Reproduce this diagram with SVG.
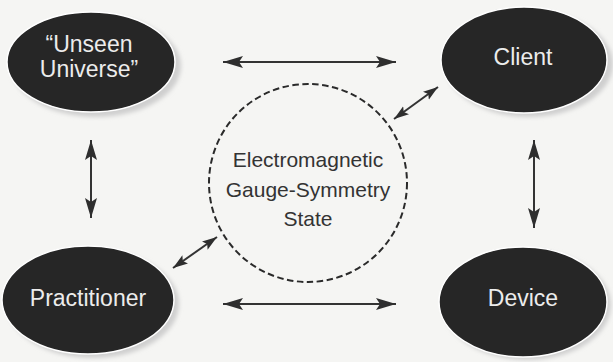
<svg xmlns="http://www.w3.org/2000/svg" width="613" height="362" viewBox="0 0 613 362">
  <style>
    .node { fill: #262626; stroke: #ffffff; stroke-width: 1.5; }
    .shadow { fill: #cfcfcf; filter: url(#blur); }
    .ntext { font-family: "Liberation Sans", Arial, sans-serif; font-size: 23px; fill: #ececec; text-anchor: middle; }
    .ctext { font-family: "Liberation Sans", Arial, sans-serif; font-size: 21px; fill: #333333; text-anchor: middle; }
    .arrow { stroke: #333333; stroke-width: 2; fill: none; marker-start: url(#big); marker-end: url(#big); }
    .darrow { stroke: #333333; stroke-width: 2; fill: none; marker-start: url(#small); marker-end: url(#small); }
  </style>
  <defs>
    <filter id="blur" x="-20%" y="-20%" width="140%" height="140%">
      <feGaussianBlur stdDeviation="2"/>
    </filter>
    <marker id="big" markerUnits="userSpaceOnUse" viewBox="-20 -7 21 14" refX="0" refY="0" markerWidth="21" markerHeight="14" orient="auto-start-reverse">
      <path d="M0,0 L-20,-6 L-16,0 L-20,6 Z" fill="#2e2e2e"/>
    </marker>
    <marker id="small" markerUnits="userSpaceOnUse" viewBox="-15 -6 16 12" refX="0" refY="0" markerWidth="16" markerHeight="12" orient="auto-start-reverse">
      <path d="M0,0 L-15,-5 L-12,0 L-15,5 Z" fill="#2e2e2e"/>
    </marker>
  </defs>
  <rect x="0" y="0" width="613" height="362" fill="#f5f5f3"/>

  <g id="connectors">
    <line class="arrow" x1="223" y1="62" x2="396" y2="62"/>
    <line class="arrow" x1="223" y1="304" x2="396" y2="304"/>
    <line class="arrow" x1="91" y1="140" x2="91" y2="218"/>
    <line class="arrow" x1="534" y1="140" x2="534" y2="228"/>
    <line class="darrow" x1="394" y1="119" x2="438" y2="87"/>
    <line class="darrow" x1="173" y1="268" x2="217" y2="237"/>
  </g>

  <g id="unseen-universe">
    <ellipse class="shadow" cx="96" cy="66" rx="85" ry="51"/>
    <ellipse class="node" cx="91" cy="62" rx="84" ry="50"/>
    <text class="ntext" x="89" y="52">“Unseen</text>
    <text class="ntext" x="89" y="77">Universe”</text>
  </g>

  <g id="client">
    <ellipse class="shadow" cx="529" cy="64" rx="84" ry="53"/>
    <ellipse class="node" cx="524" cy="60" rx="83" ry="53"/>
    <text class="ntext" x="523" y="65">Client</text>
  </g>

  <g id="practitioner">
    <ellipse class="shadow" cx="93" cy="304" rx="86" ry="54"/>
    <ellipse class="node" cx="88" cy="300" rx="86" ry="54"/>
    <text class="ntext" x="88" y="306">Practitioner</text>
  </g>

  <g id="device">
    <ellipse class="shadow" cx="527" cy="305" rx="84" ry="55"/>
    <ellipse class="node" cx="523" cy="302" rx="84" ry="55"/>
    <text class="ntext" x="523" y="306">Device</text>
  </g>

  <g id="em-state">
    <circle cx="308" cy="183" r="99" fill="none" stroke="#2a2a2a" stroke-width="2" stroke-dasharray="6.5 3.5"/>
    <text class="ctext" x="308" y="167">Electromagnetic</text>
    <text class="ctext" x="308" y="197">Gauge-Symmetry</text>
    <text class="ctext" x="308" y="226">State</text>
  </g>
</svg>
